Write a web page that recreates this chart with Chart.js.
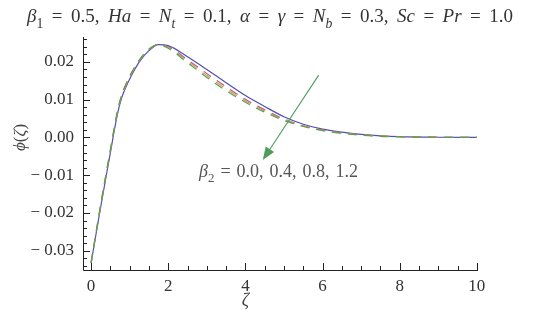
<!DOCTYPE html>
<html lang="en">
<head>
<meta charset="UTF-8">
<title>phi profile</title>
<script src="https://cdn.jsdelivr.net/npm/chart.js"></script>
<style>
  body { margin: 0; background: #fff; }
  #wrap { width: 539px; height: 321px; position: relative; }
</style>
</head>
<body>
<div id="wrap"><canvas id="chart"></canvas></div>
<script>
// zeta grid and phi values
const zeta = [0, 0.25, 0.5, 0.6, 0.7, 0.8, 0.9, 1, 1.25, 1.5, 1.75, 2, 2.5, 3, 3.5, 4, 4.5, 5, 5.5, 6, 6.5, 7, 7.5, 8, 9, 10];
const beta2Labels = ['0.0', '0.4', '0.8', '1.2'];
const phiB00 = [-0.0332, -0.0183, -0.0040, 0.0018, 0.0070, 0.0107, 0.0133, 0.0155, 0.0200, 0.0230, 0.0246, 0.0243, 0.0214, 0.0180, 0.0145, 0.0111, 0.0082, 0.0055, 0.0035, 0.0022, 0.0014, 0.0008, 0.0004, 0.0002, 0.00005, 0];
const phiB04 = [-0.0332, -0.0180, -0.0036, 0.0022, 0.0074, 0.0111, 0.0137, 0.0159, 0.0203, 0.0232, 0.0246, 0.0240, 0.0206, 0.0169, 0.0134, 0.0101, 0.0073, 0.0049, 0.0031, 0.0020, 0.0012, 0.0007, 0.0004, 0.0002, 0.00005, 0];
const phiB08 = [-0.0332, -0.0178, -0.0034, 0.0024, 0.0076, 0.0113, 0.0139, 0.0161, 0.0204, 0.0233, 0.0246, 0.0238, 0.0202, 0.0164, 0.0129, 0.0097, 0.0070, 0.0047, 0.0030, 0.0019, 0.0012, 0.0007, 0.0004, 0.0002, 0.00005, 0];
const phiB12 = [-0.0332, -0.0176, -0.0032, 0.0026, 0.0078, 0.0115, 0.0141, 0.0163, 0.0205, 0.0234, 0.0246, 0.0236, 0.0198, 0.0159, 0.0124, 0.0093, 0.0067, 0.0045, 0.0029, 0.0018, 0.0011, 0.0006, 0.0003, 0.0002, 0.00005, 0];
const xTicks = [0, 2, 4, 6, 8, 10];
const yTicks = [-0.03, -0.02, -0.01, 0.00, 0.01, 0.02];

const series = [phiB00, phiB04, phiB08, phiB12];
const colors = ['#5050b4', '#b45c8c', '#cf9f45', '#54a05a'];
const serif = "'Liberation Serif', 'DejaVu Serif', serif";

const toPoints = ys => zeta.map((x, i) => ({ x: x, y: ys[i] }));

// draw a run of math text: [text, italic, sub]; spaces stretched to reach width
function drawMath(ctx, parts, x, y, size, align, color, width) {
    ctx.save();
    ctx.fillStyle = color;
    ctx.textBaseline = 'alphabetic';
    ctx.textAlign = 'left';
    const fontFor = p => (p[1] ? 'italic ' : '') + (p[2] ? size * 0.72 : size) + 'px ' + serif;
    let total = 0, spaces = 0;
    parts.forEach(p => {
        ctx.font = fontFor(p);
        total += ctx.measureText(p[0]).width;
        spaces += (p[0].match(/ /g) || []).length;
    });
    const extra = width && spaces ? Math.max(0, (width - total) / spaces) : 0;
    const full = total + extra * spaces;
    let cx = align === 'center' ? x - full / 2 : x;
    parts.forEach(p => {
        ctx.font = fontFor(p);
        for (const ch of p[0]) {
            ctx.fillText(ch, cx, p[2] ? y + size * 0.3 : y);
            cx += ctx.measureText(ch).width + (ch === ' ' ? extra : 0);
        }
    });
    ctx.restore();
}

const decorations = {
    id: 'decorations',
    afterDraw(chart) {
        const ctx = chart.ctx;
        const xs = chart.scales.x, ys = chart.scales.y;
        const a = chart.chartArea;
        ctx.save();
        ctx.strokeStyle = '#222';
        ctx.lineWidth = 1;
        // axis lines
        ctx.beginPath();
        ctx.moveTo(a.left + 0.5, a.top);
        ctx.lineTo(a.left + 0.5, a.bottom + 0.5);
        ctx.lineTo(a.right, a.bottom + 0.5);
        ctx.stroke();
        // inward tick marks
        ctx.beginPath();
        for (let i = -17; i <= 13; i++) {
            const v = i * 0.002;
            const py = Math.round(ys.getPixelForValue(v)) + 0.5;
            if (py < a.top || py > a.bottom) continue;
            const len = (i % 5 === 0) ? 7 : 4;
            ctx.moveTo(a.left, py);
            ctx.lineTo(a.left + len, py);
        }
        for (let i = 0; i <= 20; i++) {
            const v = i * 0.5;
            const px = Math.round(xs.getPixelForValue(v)) + 0.5;
            const len = (i % 4 === 0) ? 7 : 4;
            ctx.moveTo(px, a.bottom);
            ctx.lineTo(px, a.bottom - len);
        }
        ctx.stroke();

        // arrow
        const x0 = xs.getPixelForValue(5.9), y0 = ys.getPixelForValue(0.0165);
        const x1 = xs.getPixelForValue(4.45), y1 = ys.getPixelForValue(-0.0060);
        const ang = Math.atan2(y1 - y0, x1 - x0);
        ctx.strokeStyle = '#4f9d5c';
        ctx.fillStyle = '#4f9d5c';
        ctx.lineWidth = 1.1;
        ctx.beginPath();
        ctx.moveTo(x0, y0);
        ctx.lineTo(x1 - 10 * Math.cos(ang), y1 - 10 * Math.sin(ang));
        ctx.stroke();
        ctx.beginPath();
        ctx.moveTo(x1, y1);
        ctx.lineTo(x1 - 13 * Math.cos(ang) + 5 * Math.sin(ang), y1 - 13 * Math.sin(ang) - 5 * Math.cos(ang));
        ctx.lineTo(x1 - 13 * Math.cos(ang) - 5 * Math.sin(ang), y1 - 13 * Math.sin(ang) + 5 * Math.cos(ang));
        ctx.closePath();
        ctx.fill();
        ctx.restore();

        // title
        drawMath(ctx, [
            ['β', true], ['1', false, true], [' = 0.5, '], ['Ha', true], [' = '], ['N', true], ['t', true, true],
            [' = 0.1, '], ['α', true], [' = '], ['γ', true], [' = '], ['N', true], ['b', true, true],
            [' = 0.3, '], ['Sc', true], [' = '], ['Pr', true], [' = 1.0']
        ], 270, 22, 19, 'center', '#333', 486);

        // curve family label
        drawMath(ctx, [['β', true], ['2', false, true], [' = ' + beta2Labels.join(', ')]],
            199, 177, 18, 'left', '#555', 159);

        // axis titles
        drawMath(ctx, [['ζ', true]], xs.getPixelForValue(4), 306, 18, 'center', '#444');
        ctx.save();
        ctx.translate(25, ys.getPixelForValue(0));
        ctx.rotate(-Math.PI / 2);
        drawMath(ctx, [['ϕ', true], ['('], ['ζ', true], [')']], 0, 0, 17, 'center', '#444');
        ctx.restore();
    }
};

const datasets = series.map((ys, k) => ({
    label: 'β2 = ' + beta2Labels[k],
    data: toPoints(ys),
    borderColor: colors[k],
    borderWidth: 1.2,
    borderDash: k === 0 ? [] : [9, 7],
    pointRadius: 0,
    fill: false,
    cubicInterpolationMode: 'monotone'
})).reverse();

new Chart(document.getElementById('chart'), {
    type: 'line',
    data: { datasets: datasets },
    options: {
        responsive: true,
        maintainAspectRatio: false,
        animation: false,
        layout: { padding: { left: 0, top: 37, right: 61, bottom: 0 } },
        plugins: { legend: { display: false }, tooltip: { enabled: false } },
        scales: {
            x: {
                type: 'linear',
                min: -0.21,
                max: 10.03,
                grid: { display: false, drawTicks: false },
                border: { display: false },
                afterFit(scale) { scale.height = 51; },
                afterBuildTicks(scale) { scale.ticks = xTicks.map(v => ({ value: v })); },
                ticks: {
                    padding: 6,
                    color: '#333',
                    font: { family: serif, size: 17 },
                    callback: v => String(v)
                }
            },
            y: {
                type: 'linear',
                min: -0.0351,
                max: 0.0266,
                grid: { display: false, drawTicks: false },
                border: { display: false },
                afterFit(scale) { scale.width = 83; },
                afterBuildTicks(scale) { scale.ticks = yTicks.map(v => ({ value: v })); },
                ticks: {
                    padding: 9,
                    color: '#333',
                    font: { family: serif, size: 17 },
                    callback: v => (v < -1e-9 ? '\u2212 ' : '') + Math.abs(v).toFixed(2)
                }
            }
        }
    },
    plugins: [decorations]
});
</script>
</body>
</html>
